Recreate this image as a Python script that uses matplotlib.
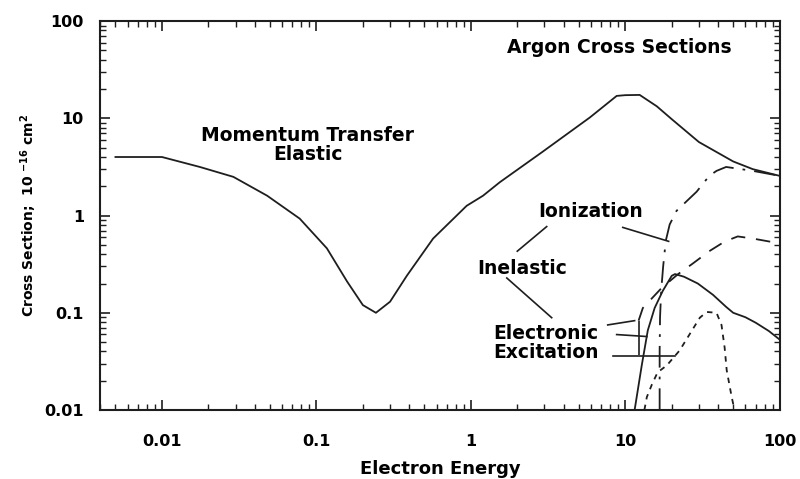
import matplotlib
matplotlib.use("Agg")
import matplotlib.pyplot as plt

plt.rcParams['font.family'] = ['DejaVu Sans']
plt.rcParams['font.weight'] = 'bold'
plt.rcParams['mathtext.fontset'] = 'custom'
plt.rcParams['mathtext.rm'] = 'DejaVu Sans:bold'
plt.rcParams['mathtext.bf'] = 'DejaVu Sans:bold'

INK = '#1e1e1e'

# momentum transfer (elastic)
elastic_e = [0.005, 0.01, 0.0176, 0.029, 0.048, 0.078, 0.117, 0.158, 0.2, 0.243,
             0.30, 0.385, 0.57, 0.94, 1.2, 1.54, 2.9, 5.9, 8.8, 10.0, 12.4, 16.0,
             20.0, 30.0, 50.0, 67.0, 100.0]
elastic_q = [4.0, 4.0, 3.16, 2.5, 1.6, 0.93, 0.46, 0.21, 0.12, 0.10,
             0.13, 0.24, 0.58, 1.26, 1.6, 2.2, 4.5, 10.2, 17.0, 17.3, 17.4, 13.3,
             9.8, 5.7, 3.6, 3.0, 2.56]

# ionization
ion_e = [16.7, 16.7, 16.8, 17.1, 17.6, 18.3, 19.4, 21.5, 29.0, 35.0, 39.0, 45.0, 67.0, 100.0]
ion_q = [0.01, 0.04, 0.09, 0.17, 0.30, 0.55, 0.81, 1.12, 1.76, 2.56, 2.88, 3.16, 2.88, 2.56]

# electronic excitation, total
exc_e = [12.2, 13.0, 17.2, 22.0, 27.3, 35.0, 44.0, 53.5, 67.0, 86.0, 100.0]
exc_q = [0.083, 0.112, 0.18, 0.25, 0.32, 0.43, 0.54, 0.61, 0.58, 0.54, 0.52]

# excitation, lower levels
lvl1_e = [11.5, 12.8, 14.0, 15.5, 17.5, 20.0, 21.0, 24.0, 29.5, 37.0, 45.0, 50.0, 60.0, 70.0, 85.0, 100.0]
lvl1_q = [0.01, 0.029, 0.066, 0.112, 0.168, 0.24, 0.25, 0.235, 0.2, 0.153, 0.115, 0.1, 0.09, 0.079, 0.065, 0.053]

lvl2_e = [13.3, 13.8, 14.9, 16.2, 18.6, 22.5, 25.4, 30.4, 33.7, 39.0, 42.0, 44.0, 45.4, 48.9, 51.0]
lvl2_q = [0.01, 0.0136, 0.0184, 0.0244, 0.0288, 0.041, 0.056, 0.089, 0.102, 0.10, 0.075, 0.044, 0.0256, 0.0136, 0.01]

x_ticks = [0.01, 0.1, 1, 10, 100]
x_ticklabels = ['0.01', '0.1', '1', '10', '100']
y_ticks = [0.01, 0.1, 1, 10, 100]
y_ticklabels = ['0.01', '0.1', '1', '10', '100']

fig = plt.figure(figsize=(8, 4.79), dpi=100)
ax = fig.add_axes([0.1256, 0.144, 0.849, 0.812])

lw = 1.3
ax.plot(elastic_e, elastic_q, color=INK, lw=lw)
ax.plot(ion_e, ion_q, color=INK, lw=lw, linestyle=(0, (12, 5, 1.5, 5)))
ax.plot(exc_e, exc_q, color=INK, lw=lw, linestyle=(0, (8, 6)))
ax.plot(lvl1_e, lvl1_q, color=INK, lw=lw)
ax.plot(lvl2_e, lvl2_q, color=INK, lw=lw, linestyle=(0, (3, 3)))

ax.set_xscale('log')
ax.set_yscale('log')
ax.set_xlim(0.004, 100)
ax.set_ylim(0.01, 100)
ax.set_xticks(x_ticks)
ax.set_xticklabels(x_ticklabels)
ax.set_yticks(y_ticks)
ax.set_yticklabels(y_ticklabels)

ax.tick_params(which='both', direction='in', top=True, right=True, color=INK)
ax.tick_params(which='major', length=7, width=1.2, labelsize=11.5, pad=17)
ax.tick_params(which='minor', length=4, width=1.0)
ax.tick_params(axis='y', which='major', pad=12)
for s in ax.spines.values():
    s.set_linewidth(1.5)
    s.set_color(INK)

ax.set_xlabel('Electron Energy', fontsize=13, fontweight='bold', labelpad=8)
ax.set_ylabel(r'Cross Section;  10 $^{-16}$ cm$^{2}$', fontsize=10, fontweight='bold', labelpad=3.5)

# labels and leader lines
ax.text(9.2, 53, 'Argon Cross Sections', fontsize=13.5, ha='center', va='center')
ax.text(0.088, 5.3, 'Momentum Transfer\nElastic', fontsize=13.5, ha='center', va='center',
        multialignment='center', linespacing=1.0)
ax.text(5.98, 1.1, 'Ionization', fontsize=13.5, ha='center', va='center')
ax.text(2.14, 0.288, 'Inelastic', fontsize=13.5, ha='center', va='center')
ax.text(1.39, 0.0489, 'Electronic\nExcitation', fontsize=13.5, ha='left', va='center',
        linespacing=1.0)

leaders = [
    ((9.64, 0.755), (19.1, 0.543)),
    ((3.1, 0.77), (2.0, 0.43)),
    ((1.71, 0.228), (3.34, 0.089)),
    ((7.7, 0.075), (11.5, 0.083)),
    ((8.8, 0.0597), (13.8, 0.057)),
    ((8.3, 0.0356), (20.9, 0.0356)),
]
for (x0, y0), (x1, y1) in leaders:
    ax.plot([x0, x1], [y0, y1], color=INK, lw=1.2)

# threshold markers
ax.vlines(12.2, 0.037, 0.083, color=INK, lw=1.2)

fig.savefig('out.png', dpi=100)
